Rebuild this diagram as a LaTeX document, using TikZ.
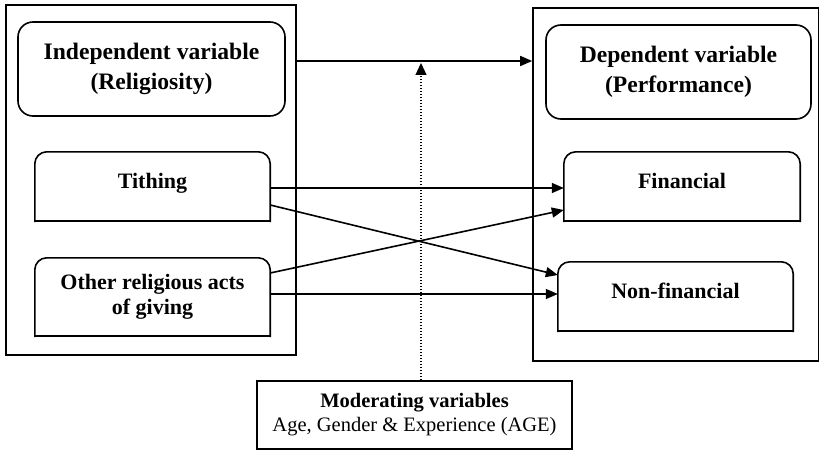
\documentclass[tikz,border=0pt]{standalone}
\usepackage{fontspec}
\setmainfont{Liberation Serif}
\usetikzlibrary{arrows.meta}
\begin{document}
\begin{tikzpicture}[x=1pt,y=-1pt,
  lw/.style={line width=1.6pt},
  frame/.style={lw, draw, rectangle, inner sep=0pt},
  headbox/.style={frame, rounded corners=15pt, align=center,
    font=\bfseries\fontsize{23.6}{29.5}\selectfont},
  itembox/.style={rectangle, inner sep=0pt, align=center,
    font=\bfseries\fontsize{22}{25}\selectfont},
  arr/.style={lw, -{Triangle[length=12pt,width=10pt]}}
]
\useasboundingbox (0,0) rectangle (819,452);

% outer frames
\node[frame, minimum width=290pt, minimum height=350pt] (leftbox) at (151,180) {};
\node[frame, minimum width=286pt, minimum height=353pt] (rightbox) at (676,184.5) {};

% headline boxes
\node[headbox, minimum width=267pt, minimum height=94pt] (indep) at (151.5,69)
  {Independent variable\\(Religiosity)};
\node[headbox, minimum width=265pt, minimum height=94pt] (dep) at (678.5,72)
  {Dependent variable\\(Performance)};

% item boxes (rounded on top only)
\node[itembox, minimum width=235pt, text height=36pt, text depth=33pt] (tith) at (152.5,186.5) {Tithing};
\node[itembox, minimum width=235pt, minimum height=78pt] (other) at (152.5,297)
  {Other religious acts\\of giving};
\node[itembox, minimum width=236pt, text height=36pt, text depth=33pt] (fin) at (682,186.5) {Financial};
\node[itembox, minimum width=235pt, text height=36pt, text depth=33pt] (nonfin) at (675.5,296.5) {Non-financial};

\foreach \n in {tith,other,fin,nonfin}{
  \draw[lw, line cap=rect, rounded corners=12pt]
    (\n.south west) -- (\n.north west) -- (\n.north east) -- (\n.south east);
  \draw[lw, line cap=rect] (\n.south west) -- (\n.south east);
}

% moderator box
\node[frame, minimum width=315pt, minimum height=68pt, align=center,
  font=\fontsize{20.5}{24}\selectfont] (mod) at (414.5,415)
  {\textbf{Moderating variables}\\Age, Gender \& Experience (AGE)};

% connectors
\draw[arr] (leftbox.east |- 0,61) -- (rightbox.west |- 0,61);
\draw[arr] (tith.east |- 0,188) -- (fin.west |- 0,188);
\draw[arr] (tith.east |- 0,205) -- (nonfin.west |- 0,275);
\draw[arr] (other.east |- 0,273) -- (fin.west |- 0,210);
\draw[arr] (other.east |- 0,294) -- (nonfin.west |- 0,294);
\draw[line width=1.2pt, dash pattern=on 1.5pt off 1.5pt, -{Triangle[length=12pt,width=11pt]}]
  (mod.north -| 421,0) -- (421,63);
\end{tikzpicture}
\end{document}
